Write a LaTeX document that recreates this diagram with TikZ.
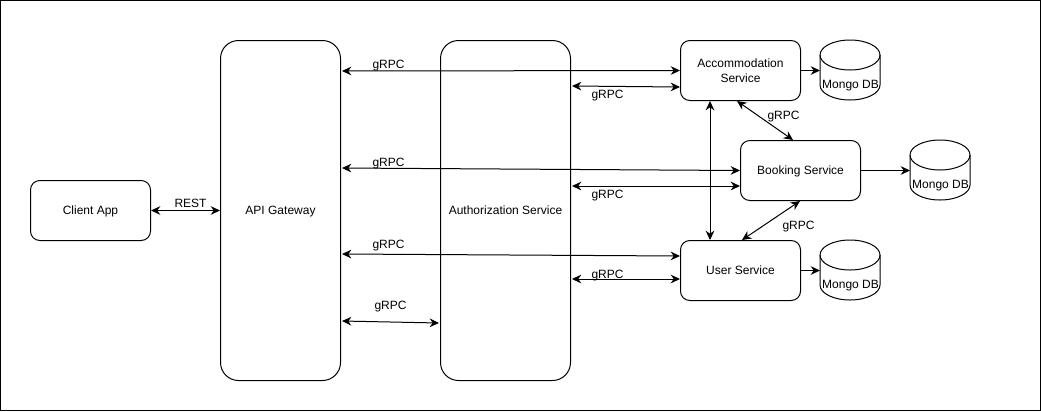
\documentclass[tikz,border=0pt]{standalone}
\usepackage{fontspec}
\setmainfont{Liberation Sans}
\usetikzlibrary{arrows.meta,calc}
\begin{document}
\begin{tikzpicture}[
  x=0.75pt, y=-0.75pt, line width=0.75pt,
  oneline/.style={text height=7.4pt, text depth=1.4pt},
  box/.style={draw, rounded corners=7pt, align=center, minimum width=90pt,
    minimum height=45pt, inner sep=0pt, font=\fontsize{9}{11}\selectfont},
  tall/.style={box, oneline, rounded corners=13.5pt, minimum height=255pt},
  mongo/.style={oneline, minimum width=45pt, minimum height=45pt, inner sep=0pt,
    yshift=-10.5pt, font=\fontsize{9}{11}\selectfont},
  proto/.style={oneline, font=\fontsize{9}{11}\selectfont, inner sep=0pt},
  link/.style={{Stealth[length=7pt,width=6.5pt]}-{Stealth[length=7pt,width=6.5pt]}},
  flow/.style={-{Stealth[length=7pt,width=6.5pt]}}
]
\useasboundingbox (-0.5,-0.5) rectangle (1040.5,410.5);
\draw (0,0) rectangle (1040,410);

% Services, left to right.
\node[box, oneline] (client) at (90,210) {Client App};
\node[tall] (gateway) at (280,210) {API Gateway};
\node[tall, minimum width=97.5pt] (auth) at (505,210) {Authorization Service};
\node[box] (accommodation) at (740,70) {Accommodation\\Service};
\node[box, oneline] (booking) at (800,170) {Booking Service};
\node[box, oneline] (user) at (740,270) {User Service};

\node[mongo] (mongoa) at (850,70) {Mongo DB};
\node[mongo] (mongob) at (940,170) {Mongo DB};
\node[mongo] (mongou) at (850,270) {Mongo DB};

% Drums are drawn round the database nodes.
\foreach \db in {mongoa,mongob,mongou} {
  \draw ($(\db.north west)+(0,1)$) arc[start angle=180, end angle=360, x radius=30, y radius=15]
    -- ++(0,30) arc[start angle=0, end angle=180, x radius=30, y radius=15] -- cycle;
  \draw ($(\db.north west)+(0,1)$) arc[start angle=180, end angle=0, x radius=30, y radius=15];
}

% Protocol labels.
\node[proto] (rest) at (190,203) {REST};
\node[proto] (grpca) at (388,64) {gRPC};
\node[proto] (grpcb) at (607,94) {gRPC};
\node[proto] (grpcc) at (388,162) {gRPC};
\node[proto] (grpcd) at (607,194) {gRPC};
\node[proto] (grpce) at (388,244) {gRPC};
\node[proto] (grpcf) at (607,274) {gRPC};
\node[proto] (grpcg) at (390,305) {gRPC};
\node[proto] (grpch) at (783,115) {gRPC};
\node[proto] (grpci) at (798,225) {gRPC};

\draw[link] (client) -- (gateway);
\draw[link] ($(gateway.north east)+(1,31)$) -- (accommodation.west);
\draw[link] ($(auth.north east)+(1,46)$) -- ($(accommodation.south west)+(0,-14)$);
\draw[link] ($(gateway.north east)+(1,128)$) -- (booking.west);
\draw[link] ($(auth.north east)+(1,146)$) -- ($(booking.south west)+(0,-15)$);
\draw[link] ($(gateway.north east)+(1,214)$) -- ($(user.north west)+(0,16)$);
\draw[link] ($(auth.north east)+(1,239)$) -- ($(user.north west)+(0,39)$);
\draw[link] ($(gateway.north east)+(1,281)$) -- ($(auth.north west)+(-1,283)$);
\draw[link] ($(accommodation.south west)+(30,0)$) -- ($(user.north west)+(30,0)$);
\draw[link] ($(accommodation.south west)+(57,0)$) -- ($(booking.north west)+(53,0)$);
\draw[link] ($(booking.south west)+(60,0)$) -- ($(user.north west)+(62,0)$);

\draw[flow] (accommodation.east) -- (accommodation.east -| mongoa.west);
\draw[flow] (booking.east) -- (booking.east -| mongob.west);
\draw[flow] (user.east) -- (user.east -| mongou.west);
\end{tikzpicture}
\end{document}
